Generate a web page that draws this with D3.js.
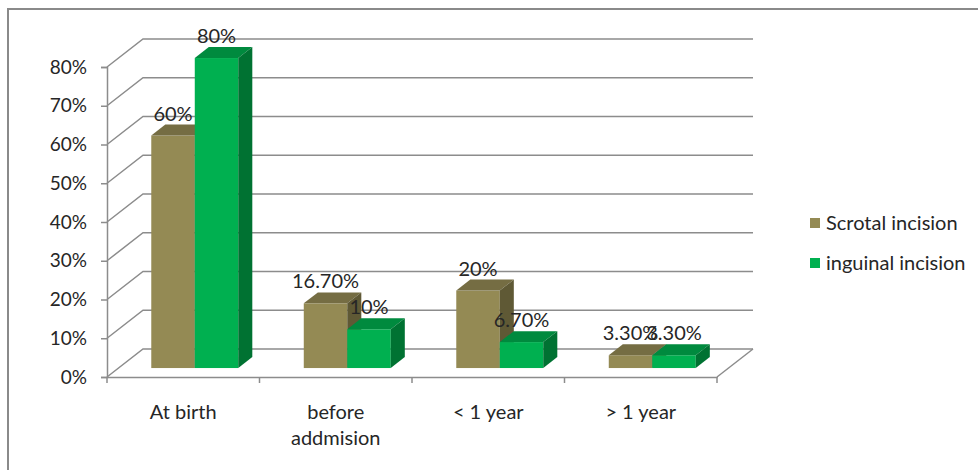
<!DOCTYPE html>
<html lang="en">
<head>
<meta charset="UTF-8">
<title>Incision 3D bar chart</title>
<script src="https://cdn.jsdelivr.net/npm/d3@7"></script>
<style>
  body { margin: 0; background: #fff; }
  text { font-family: Lato, "Open Sans", sans-serif; fill: #262626; }
</style>
</head>
<body>
<svg id="main" width="978" height="470"></svg>
<script>
    // data
    const categories = ["At birth", "before\naddmision", "< 1 year", "> 1 year"];
    const seriesNames = ["Scrotal incision", "inguinal incision"];
    const scrotal = [60, 16.7, 20, 3.3];
    const inguinal = [80, 10, 6.7, 3.3];
    const yTicks = [0, 10, 20, 30, 40, 50, 60, 70, 80];

    const colors = {
        "Scrotal incision": { front: "#948a54", top: "#756d43", side: "#5f5935" },
        "inguinal incision": { front: "#00b050", top: "#008a3e", side: "#007232" }
    };

    const svg = d3.select("#main");

    // outer frame (only top and left edges visible)
    svg.append("path")
        .attr("d", "M8,470 L8,9 L978,9")
        .attr("fill", "none")
        .attr("stroke", "#8a8a8a")
        .attr("stroke-width", 2);

    // floor depth of the 3d box
    const depthX = 36, depthY = -28;
    const barFront = 0.32, barBack = 0.71;

    const x0 = d3.scaleBand().domain(categories).range([107, 717]);
    const x1 = d3.scaleBand().domain(seriesNames).range([0, x0.bandwidth()]).paddingOuter(0.753);
    const y = d3.scaleLinear().domain([0, 80]).range([377, 67]);

    const grid = svg.append("g")
        .attr("fill", "none")
        .attr("stroke", "#8c8c8c")
        .attr("stroke-width", 1.5);

    // back wall lines with diagonals from the front axis
    yTicks.forEach(t => {
        grid.append("path")
            .attr("d", `M${x0.range()[0]},${y(t)} L${x0.range()[0] + depthX},${y(t) + depthY} L${x0.range()[1] + depthX},${y(t) + depthY}`);
    });
    // floor right edge
    grid.append("path")
        .attr("d", `M${x0.range()[1]},${y(0)} L${x0.range()[1] + depthX},${y(0) + depthY}`);

    // y axis
    const yAxis = svg.append("g")
        .attr("transform", `translate(${x0.range()[0]},0)`)
        .call(d3.axisLeft(y).tickValues(yTicks).tickSize(6).tickPadding(14).tickFormat(d => d + "%"));
    yAxis.select(".domain").attr("stroke", "#8c8c8c").attr("stroke-width", 1.5);
    yAxis.selectAll(".tick line").attr("stroke", "#8c8c8c").attr("stroke-width", 1.5);
    yAxis.selectAll(".tick text").attr("font-size", 19).attr("font-family", "Lato").attr("fill", "#262626");

    // x axis
    const xAxis = svg.append("g")
        .attr("transform", `translate(0,${y(0)})`)
        .call(d3.axisBottom(x0).tickSize(0).tickFormat(""));
    xAxis.select(".domain").attr("stroke", "#8c8c8c").attr("stroke-width", 1.5);
    xAxis.selectAll(".tick").remove();
    const bounds = categories.map(c => x0(c)).concat([x0.range()[1]]);
    xAxis.selectAll("line.sep")
        .data(bounds)
        .join("line")
        .attr("class", "sep")
        .attr("x1", d => d).attr("x2", d => d)
        .attr("y1", 0).attr("y2", 6)
        .attr("stroke", "#8c8c8c").attr("stroke-width", 1.5);

    const catLabels = svg.append("g");
    categories.forEach(c => {
        const t = catLabels.append("text")
            .attr("x", x0(c) + x0.bandwidth() / 2)
            .attr("y", 419)
            .attr("text-anchor", "middle")
            .attr("font-size", 20);
        c.split("\n").forEach((line, i) => {
            t.append("tspan")
                .attr("x", x0(c) + x0.bandwidth() / 2)
                .attr("dy", i === 0 ? 0 : 26)
                .text(line);
        });
    });

    // bars
    const rows = [];
    categories.forEach((c, i) => {
        rows.push({ cat: c, series: seriesNames[0], value: scrotal[i] });
        rows.push({ cat: c, series: seriesNames[1], value: inguinal[i] });
    });

    const offX = barFront * depthX, offY = barFront * depthY;
    const sideX = (barBack - barFront) * depthX, sideY = (barBack - barFront) * depthY;
    const w = x1.bandwidth();

    const bars = svg.append("g");
    rows.forEach(d => {
        const xl = x0(d.cat) + x1(d.series) + offX;
        const yb = y(0) + offY;
        const yt = y(d.value) + offY;
        const col = colors[d.series];
        const g = bars.append("g");
        g.append("rect")
            .attr("x", xl).attr("y", yt)
            .attr("width", w).attr("height", yb - yt)
            .attr("fill", col.front);
        g.append("path")
            .attr("d", `M${xl},${yt} L${xl + sideX},${yt + sideY} L${xl + w + sideX},${yt + sideY} L${xl + w},${yt} Z`)
            .attr("fill", col.top);
        g.append("path")
            .attr("d", `M${xl + w},${yt} L${xl + w + sideX},${yt + sideY} L${xl + w + sideX},${yb + sideY} L${xl + w},${yb} Z`)
            .attr("fill", col.side);
    });

    // value labels
    const fmt = v => Number.isInteger(v) ? v + "%" : v.toFixed(2) + "%";
    const labels = svg.append("g");
    rows.forEach(d => {
        const xl = x0(d.cat) + x1(d.series) + offX;
        const yt = y(d.value) + offY + sideY;
        labels.append("text")
            .attr("x", xl + w / 2)
            .attr("y", yt - 4)
            .attr("text-anchor", "middle")
            .attr("font-size", 20)
            .text(fmt(d.value));
    });

    // legend
    const legend = svg.append("g").attr("transform", "translate(810,218)");
    seriesNames.forEach((s, i) => {
        legend.append("rect")
            .attr("x", 0).attr("y", i * 40)
            .attr("width", 10).attr("height", 10)
            .attr("fill", colors[s].front);
        legend.append("text")
            .attr("x", 16).attr("y", i * 40 + 5)
            .attr("dy", "0.35em")
            .attr("font-size", 20)
            .text(s);
    });
</script>
</body>
</html>
